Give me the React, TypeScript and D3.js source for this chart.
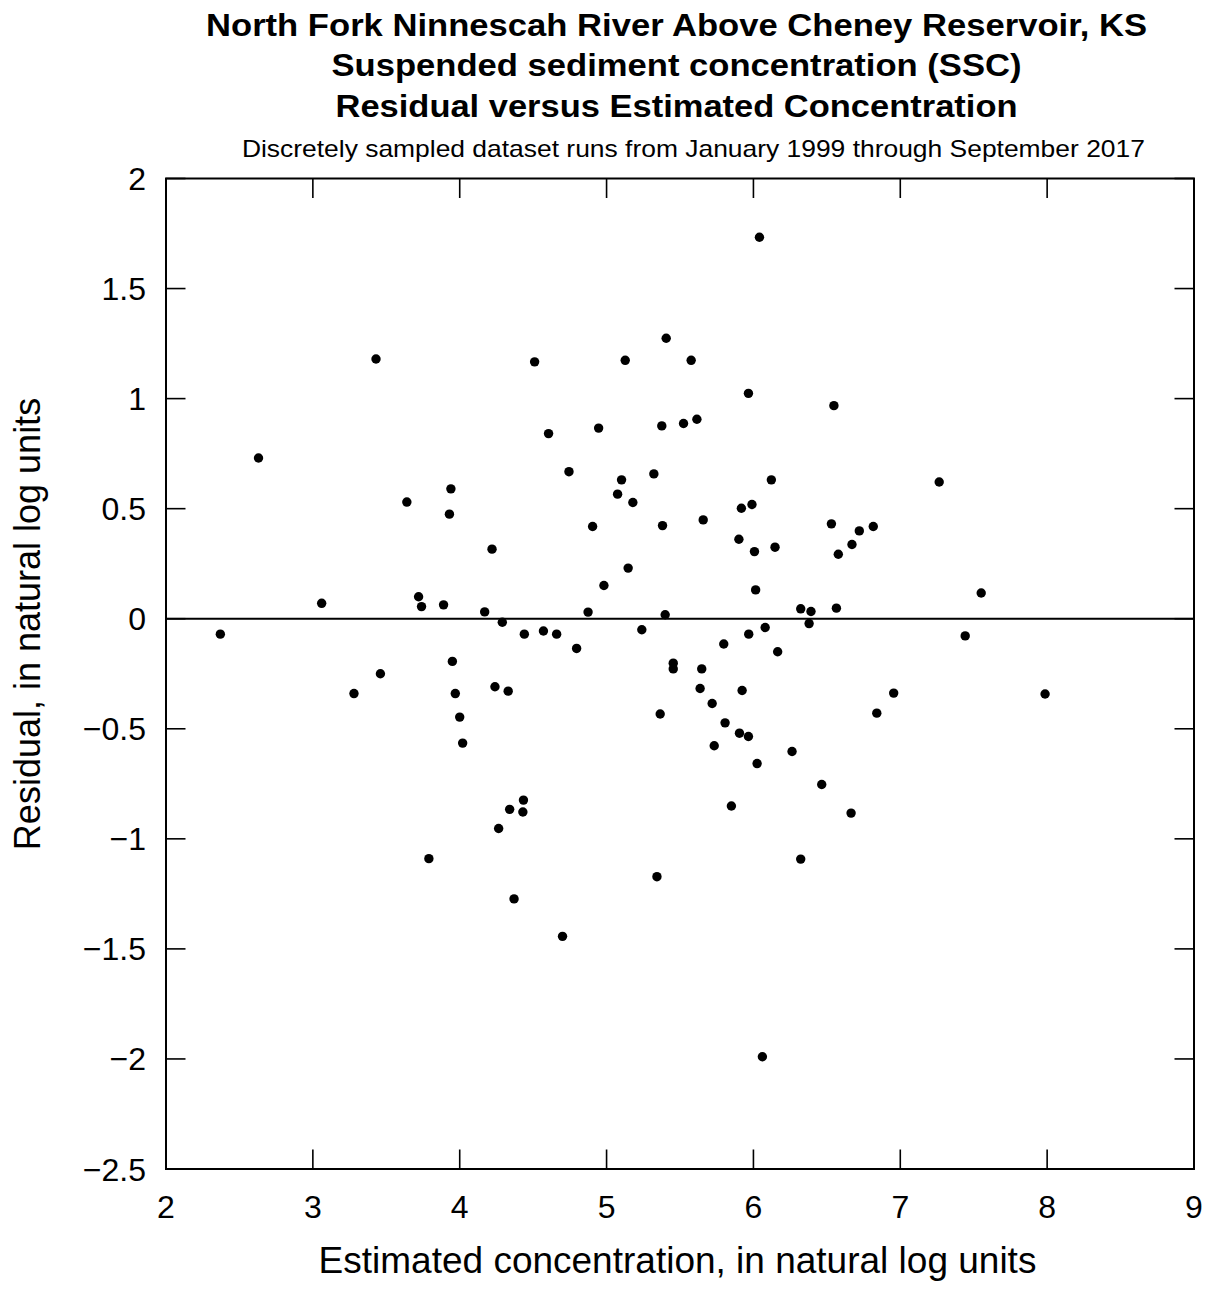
import React from "react";
import * as d3 from "d3";

const estimated: number[] = [
  2.37, 2.63, 3.06, 3.28, 3.43, 3.46, 3.64, 3.72, 3.74, 3.79,
  3.89, 3.93, 3.94, 3.95, 3.97, 4.0, 4.02, 4.17, 4.22, 4.24,
  4.265, 4.29, 4.33, 4.34, 4.37, 4.43, 4.434, 4.44, 4.51, 4.57,
  4.605, 4.66, 4.7, 4.744, 4.796, 4.874, 4.905, 4.946, 4.982, 5.075,
  5.102, 5.127, 5.147, 5.179, 5.24, 5.322, 5.343, 5.365, 5.376, 5.381,
  5.399, 5.406, 5.454, 5.454, 5.524, 5.576, 5.615, 5.637, 5.648, 5.658,
  5.719, 5.733, 5.798, 5.807, 5.85, 5.901, 5.905, 5.918, 5.923, 5.966,
  5.966, 5.968, 5.99, 6.007, 6.015, 6.025, 6.041, 6.061, 6.08, 6.122,
  6.147, 6.165, 6.263, 6.322, 6.322, 6.379, 6.392, 6.465, 6.531, 6.548,
  6.565, 6.578, 6.665, 6.671, 6.721, 6.816, 6.84, 6.955, 7.265, 7.442,
  7.551, 7.986,
];

const residual: number[] = [
  -0.07, 0.73, 0.07, -0.34, 1.18, -0.25, 0.53, 0.1, 0.055, -1.09,
  0.063, 0.475, 0.59, -0.194, -0.34, -0.447, -0.565, 0.031, 0.316, -0.309,
  -0.953, -0.016, -0.329, -0.866, -1.273, -0.878, -0.824, -0.07, 1.167, -0.056,
  0.841, -0.07, -1.443, 0.668, -0.135, 0.03, 0.419, 0.866, 0.151, 0.566,
  0.631, 1.174, 0.23, 0.528, -0.05, 0.658, -1.172, -0.433, 0.876, 0.423,
  0.018, 1.274, -0.202, -0.228, 0.887, 1.174, 0.906, -0.317, -0.228, 0.449,
  -0.385, -0.577, -0.115, -0.473, -0.851, 0.361, -0.52, 0.502, -0.326, 1.024,
  -0.535, -0.07, 0.519, 0.305, 0.131, -0.658, 1.733, -1.99, -0.04, 0.631,
  0.325, -0.15, -0.603, 0.045, -1.092, -0.022, 0.033, -0.753, 0.431, 0.968,
  0.048, 0.293, -0.883, 0.337, 0.399, 0.419, -0.429, -0.338, 0.621, -0.078,
  0.117, -0.342,
];

const xTicks: number[] = [2, 3, 4, 5, 6, 7, 8, 9];
const yTicks: number[] = [-2.5, -2, -1.5, -1, -0.5, 0, 0.5, 1, 1.5, 2];

const titleLines: string[] = [
  "North Fork Ninnescah River Above Cheney Reservoir, KS",
  "Suspended sediment concentration (SSC)",
  "Residual versus Estimated Concentration",
];
const subtitle = "Discretely sampled dataset runs from January 1999 through September 2017";
const xLabel = "Estimated concentration, in natural log units";
const yLabel = "Residual, in natural log units";

export default function App() {
  const W = 1214;
  const H = 1289;
  const left = 166;
  const right = 1194;
  const top = 178.5;
  const bottom = 1169;
  const x = d3.scaleLinear().domain([2, 9]).range([left, right]);
  const y = d3.scaleLinear().domain([-2.5, 2]).range([bottom, top]);
  const fmt = d3.format("");
  const font = "'Liberation Sans', Arial, Helvetica, sans-serif";
  const tickLen = 19.5;
  const pts = estimated.map((e, i) => [e, residual[i]]);
  const titleBase = [36, 76, 117];
  const titleLen = [941, 690, 682];

  return (
    <svg
      width={W}
      height={H}
      style={{ position: "absolute", left: 0, top: 0, display: "block", background: "#fff" }}
      fontFamily={font}
    >
      <rect x={0} y={0} width={W} height={H} fill="#fff" />
      {titleLines.map((t, i) => (
        <text
          key={t}
          x={676.5}
          y={titleBase[i]}
          textAnchor="middle"
          fontWeight="bold"
          fontSize={32}
          textLength={titleLen[i]}
          lengthAdjust="spacingAndGlyphs"
          fill="#000"
        >
          {t}
        </text>
      ))}
      <text
        x={693.4}
        y={156.5}
        textAnchor="middle"
        fontSize={24}
        textLength={903}
        lengthAdjust="spacingAndGlyphs"
        fill="#000"
      >
        {subtitle}
      </text>

      {/* zero line */}
      <line x1={left} x2={right} y1={y(0)} y2={y(0)} stroke="#000" strokeWidth={2} />

      {/* ticks */}
      {xTicks.map((t) => (
        <g key={"xt" + t}>
          <line x1={x(t)} x2={x(t)} y1={bottom} y2={bottom - tickLen} stroke="#000" strokeWidth={1.6} />
          <line x1={x(t)} x2={x(t)} y1={top} y2={top + tickLen} stroke="#000" strokeWidth={1.6} />
          <text x={x(t)} y={1218} textAnchor="middle" fontSize={32} fill="#000">
            {fmt(t)}
          </text>
        </g>
      ))}
      {yTicks.map((t) => (
        <g key={"yt" + t}>
          <line x1={left} x2={left + tickLen} y1={y(t)} y2={y(t)} stroke="#000" strokeWidth={1.6} />
          <line x1={right} x2={right - tickLen} y1={y(t)} y2={y(t)} stroke="#000" strokeWidth={1.6} />
          <text x={146} y={y(t) + 11.5} textAnchor="end" fontSize={32} fill="#000">
            {fmt(t)}
          </text>
        </g>
      ))}

      {/* frame */}
      <rect
        x={left}
        y={top}
        width={right - left}
        height={bottom - top}
        fill="none"
        stroke="#000"
        strokeWidth={2}
      />

      {/* points */}
      {pts.map((p, i) => (
        <circle key={i} cx={x(p[0])} cy={y(p[1])} r={4.7} fill="#000" />
      ))}

      <text x={677.5} y={1273} textAnchor="middle" fontSize={37} fill="#000">
        {xLabel}
      </text>
      <text
        transform={`translate(39.5, 624) rotate(-90)`}
        textAnchor="middle"
        fontSize={36}
        fill="#000"
      >
        {yLabel}
      </text>
    </svg>
  );
}
